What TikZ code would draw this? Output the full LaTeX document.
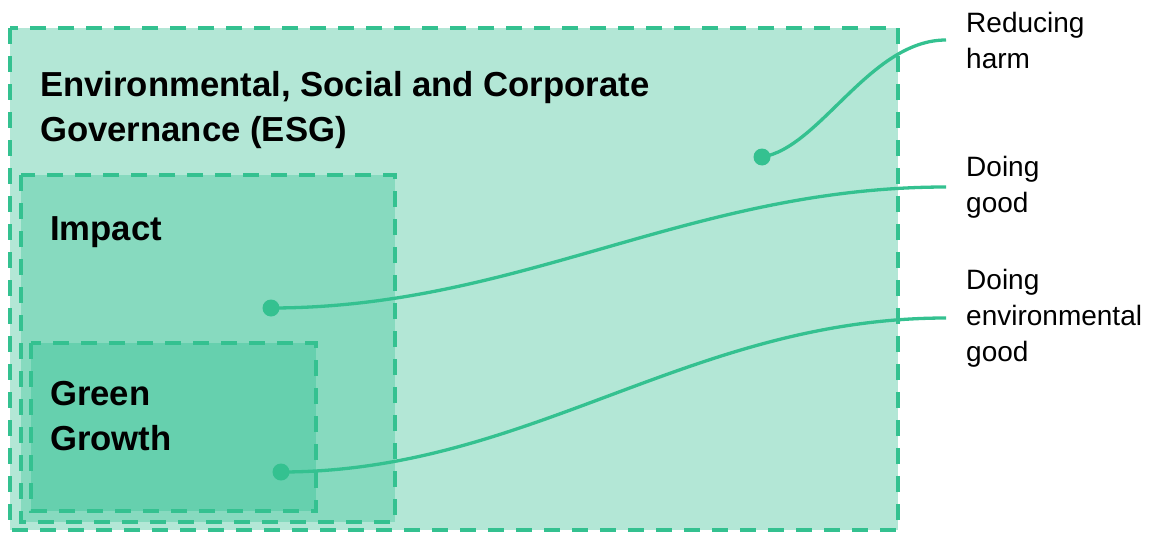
\documentclass[tikz,border=0pt]{standalone}
\usepackage{fontspec}
\setmainfont{Liberation Sans}
\usepackage{color}
\definecolor{esgline}{RGB}{52,193,144}
\definecolor{esgfill}{RGB}{179,231,214}
\definecolor{impfill}{RGB}{135,218,191}
\definecolor{grnfill}{RGB}{102,208,174}
\begin{document}
\begin{tikzpicture}[x=1pt,y=-1pt,
	zone/.style={draw=esgline,line width=4pt,dash pattern=on 16pt off 12pt},
	heading/.style={anchor=west,align=left,inner sep=0pt,font=\fontsize{34.7}{45}\selectfont\bfseries},
	label/.style={anchor=west,align=left,inner ysep=0pt,inner xsep=20pt,font=\fontsize{28}{36}\selectfont},
	dot/.style={circle,fill=esgline,inner sep=0pt,minimum size=17pt},
	link/.style={draw=esgline,line width=3.3pt}]
	\useasboundingbox (0,0) rectangle (1155,535);
	%Aree
	\draw[zone,fill=esgfill] (10,28) rectangle (898,530);
	\draw[zone,fill=impfill] (21,175) rectangle (395,522);
	\draw[zone,fill=grnfill] (31,343) rectangle (316,511);
	\node[heading] (esg) at (40,110) {Environmental, Social and Corporate\\Governance (ESG)};
	\node[heading] (imp) at (50,232) {Impact};
	\node[heading] (grn) at (50,416) {Green\\Growth};
	%Etichette
	\node[label] (harm) at (946,40) {Reducing\\harm};
	\node[label] (good) at (946,187) {Doing\\good};
	\node[label] (envgood) at (946,318) {Doing\\environmental\\good};
	\node[dot] (d1) at (762,157) {};
	\node[dot] (d2) at (271,308) {};
	\node[dot] (d3) at (281,472) {};
	\draw[link] (d1.center) .. controls (820,148) and (870,40) .. (harm.west);
	\draw[link] (d2.center) .. controls (520,308) and (690,187) .. (good.west);
	\draw[link] (d3.center) .. controls (530,472) and (690,318) .. (envgood.west);
\end{tikzpicture}
\end{document}
